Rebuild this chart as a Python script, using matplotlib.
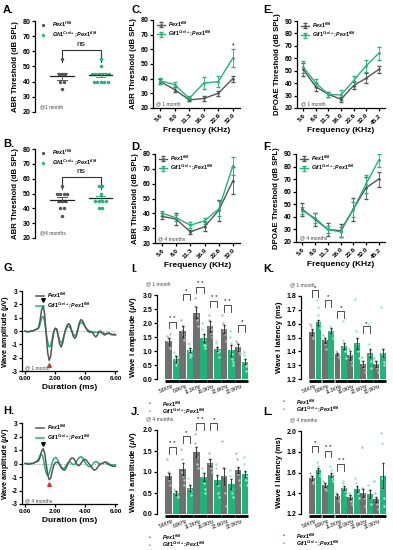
import numpy as np
import matplotlib
matplotlib.use("Agg")
import matplotlib.pyplot as plt

plt.rcParams['font.family'] = ['Liberation Sans', 'DejaVu Sans']
plt.rcParams['font.weight'] = 'bold'
plt.rcParams['axes.labelweight'] = 'bold'
plt.rcParams['axes.linewidth'] = 0.9
plt.rcParams['axes.unicode_minus'] = False
plt.rcParams['mathtext.fontset'] = 'custom'
plt.rcParams['mathtext.it'] = 'Liberation Sans:italic'
plt.rcParams['mathtext.rm'] = 'Liberation Sans'

GRAY = '#555555'
GRAYBAR = '#707070'
GREEN = '#22b37a'
LAB_WT = r'$Pex1^{fl/fl}$'
LAB_KO = r'$Gfi1^{Cre/+};Pex1^{fl/fl}$'

# ---------------- data ----------------
# A / B : ABR click thresholds (individual animals)
abr1_wt = [55, 45, 45, 45, 40, 40, 35]
abr1_ko = [55, 50, 45, 45, 45, 45, 45, 45, 40, 40, 40, 40, 40]
abr4_wt = [55, 50, 50, 50, 50, 45, 45, 45, 40, 40, 35]
abr4_ko = [55, 55, 50, 45, 45, 45, 45, 40, 40]

# C / D : ABR thresholds by frequency
abr_freq = ['5.6', '8.0', '11.3', '16.0', '22.6', '32.0']
c_wt = [38, 32.5, 25.5, 26.5, 30, 40]
c_wt_err = [1.5, 1.5, 1, 2, 1.5, 2]
c_ko = [38.5, 36, 26.5, 37, 38, 54]
c_ko_err = [2, 2, 1.5, 4, 4, 6]
d_wt = [38, 36, 27.5, 31, 42, 62]
d_wt_err = [2, 4, 1.5, 3, 7, 9]
d_ko = [40, 37, 32, 35, 43, 72]
d_ko_err = [1.5, 2, 2, 2, 5, 6]

# E / F : DPOAE thresholds
dp_freq = ['5.6', '8.0', '11.3', '16.0', '22.6', '32.0', '45.2']
e_wt = [51, 37, 31, 27, 38, 44, 51]
e_wt_err = [5, 3, 2, 2, 3, 4, 3]
e_ko = [53, 40, 31, 30.5, 42, 54, 64]
e_ko_err = [5, 3, 2, 4, 4, 5, 5]
f_wt = [46, 38, 30, 29, 46, 63, 70]
f_wt_err = [5, 5, 5, 5, 9, 9, 6]
f_ko = [45, 39, 30, 28, 46, 66, 85]
f_ko_err = [3, 4, 3, 4, 6, 7, 5]

# G / H : averaged waveforms (0 - 6 ms, 0.1 ms steps)
t_ms = [i / 10 for i in range(61)]
g_wt = [0, -0.05, -0.05, -0.05, 0, 0, 0.05, 0.1, 0.15, 0.25,
        0.8, 1.6, 1.9, 1.3, -0.2, -1.6, -2.2, -1.9, -0.9, -0.1,
        0.2, 0.15, -0.4, -1.0, -1.2, -0.9, -0.3, 0.15, 0.45, 0.55,
        0.4, 0.0, -0.4, -0.55, -0.4, 0.1, 0.6, 0.85, 0.8, 0.55,
        0.3, 0.1, -0.05, -0.1, -0.05, -0.15, -0.35, -0.45, -0.3, -0.05,
        0.0, -0.1, -0.25, -0.3, -0.2, -0.15, -0.15, -0.25, -0.3, -0.25, -0.3]
g_ko = [0, -0.05, -0.05, -0.05, 0, 0, 0.05, 0.1, 0.15, 0.2,
        0.5, 0.95, 1.1, 0.7, -0.1, -0.8, -1.2, -1.1, -0.6, -0.05,
        0.2, 0.15, -0.3, -0.75, -0.9, -0.7, -0.25, 0.1, 0.3, 0.35,
        0.25, 0.0, -0.25, -0.35, -0.25, 0.1, 0.5, 0.65, 0.6, 0.45,
        0.3, 0.15, 0.05, 0.0, -0.05, -0.05, -0.1, -0.1, -0.1, -0.1,
        -0.1, -0.15, -0.15, -0.2, -0.2, -0.2, -0.2, -0.25, -0.25, -0.25, -0.3]
h_wt = [0, 0, -0.05, -0.05, 0, 0, 0.05, 0.1, 0.15, 0.2,
        0.5, 0.9, 1.1, 0.8, 0.0, -0.8, -1.2, -1.1, -0.6, -0.15,
        0.05, 0.1, 0.05, -0.1, -0.3, -0.45, -0.5, -0.4, -0.15, 0.1,
        0.3, 0.4, 0.4, 0.25, 0.0, -0.15, -0.15, 0.0, 0.15, 0.3,
        0.3, 0.2, 0.05, -0.1, -0.25, -0.4, -0.5, -0.45, -0.3, -0.15,
        -0.05, 0.0, 0.05, 0.1, 0.05, -0.05, -0.1, -0.15, -0.2, -0.2, -0.2]
h_ko = [0, 0, 0, 0, 0, 0, 0.05, 0.1, 0.2, 0.35,
        0.6, 0.7, 0.45, -0.2, -0.7, -0.9, -0.75, -0.35, 0.05, 0.35,
        0.45, 0.4, 0.2, -0.05, -0.25, -0.35, -0.35, -0.2, 0.0, 0.1,
        0.1, 0.0, -0.1, -0.05, 0.1, 0.3, 0.45, 0.5, 0.45, 0.25,
        0.05, -0.1, -0.2, -0.25, -0.2, -0.05, 0.1, 0.15, 0.1, 0.0,
        -0.05, 0.0, 0.05, 0.1, 0.1, 0.05, -0.05, -0.1, -0.1, -0.1, -0.1]

# I - L : wave I amplitude / latency
bar_freq = ['5.6KHz', '8.0KHz', '11.3KHz', '16.0KHz', '22.6KHz', '32.0KHz']

i_wt = [1.35, 1.7, 2.37, 1.88, 1.78, 1.13]
i_wt_err = [0.12, 0.2, 0.2, 0.2, 0.15, 0.12]
i_ko = [0.72, 1.03, 1.47, 1.08, 1.03, 0.62]
i_ko_err = [0.1, 0.08, 0.15, 0.08, 0.2, 0.1]
i_wt_pts = [[1.55, 1.45, 1.35, 1.2, 1.1, 1.6], [2.1, 1.9, 1.75, 1.6, 1.4, 1.5],
            [2.9, 2.6, 2.45, 2.3, 2.1, 1.9], [2.3, 2.1, 1.9, 1.8, 1.65, 1.5],
            [2.3, 2.0, 1.8, 1.7, 1.6, 1.35], [1.35, 1.3, 1.15, 1.05, 0.95, 0.9]]
i_ko_pts = [[0.95, 0.85, 0.75, 0.65, 0.5, 0.6, 0.8], [1.3, 1.25, 1.1, 1.0, 0.9, 0.8, 1.0, 0.85],
            [2.0, 1.8, 1.6, 1.5, 1.4, 1.2, 1.1, 1.2], [1.35, 1.3, 1.15, 1.05, 0.95, 0.8, 1.0],
            [1.7, 1.5, 1.3, 1.05, 0.9, 0.7, 0.5, 0.6], [0.95, 0.85, 0.7, 0.6, 0.45, 0.3, 0.5]]
i_sig = [(0, 2.05, '* *'), (1, 3.05, '*'), (2, 3.3, '* *'), (3, 2.8, '* *'), (4, 2.64, '* *'), (5, 1.93, '*')]

j_wt = [0.9, 1.07, 1.47, 1.22, 0.9, 1.05]
j_wt_err = [0.07, 0.15, 0.12, 0.08, 0.2, 0.08]
j_ko = [0.5, 0.62, 0.88, 0.82, 0.72, 0.95]
j_ko_err = [0.05, 0.07, 0.1, 0.1, 0.12, 0.07]
j_wt_pts = [[1.3, 1.0, 0.95, 0.8, 0.7], [1.55, 1.3, 1.0, 0.9, 0.8, 0.7],
            [1.9, 1.7, 1.5, 1.35, 1.2, 1.1], [1.45, 1.3, 1.2, 1.1, 1.0],
            [1.75, 1.1, 0.9, 0.7, 0.5, 0.2], [1.45, 1.3, 1.1, 0.95, 0.8, 0.7]]
j_ko_pts = [[0.6, 0.55, 0.5, 0.45, 0.4], [0.85, 0.7, 0.6, 0.55, 0.45],
            [1.1, 1.0, 0.9, 0.75, 0.6, 0.5], [1.2, 1.1, 0.9, 0.7, 0.5, 0.4],
            [1.05, 0.9, 0.75, 0.6, 0.5, 0.4], [1.35, 1.2, 1.0, 0.9, 0.8, 0.7]]
j_sig = [(0, 1.6, '* *'), (1, 1.86, '*'), (2, 2.16, '* *'), (3, 2.16, '*')]

k_wt = [1.54, 1.48, 1.38, 1.37, 1.31, 1.31]
k_wt_err = [0.02, 0.02, 0.01, 0.03, 0.02, 0.02]
k_ko = [1.61, 1.55, 1.44, 1.46, 1.39, 1.39]
k_ko_err = [0.02, 0.02, 0.02, 0.04, 0.03, 0.03]
k_wt_pts = [[1.6, 1.58, 1.55, 1.52, 1.5], [1.52, 1.5, 1.48, 1.45, 1.42],
            [1.4, 1.39, 1.38, 1.37, 1.36], [1.42, 1.39, 1.37, 1.33, 1.3],
            [1.36, 1.33, 1.3, 1.28, 1.25], [1.35, 1.33, 1.31, 1.28, 1.25]]
k_ko_pts = [[1.77, 1.72, 1.66, 1.62, 1.6, 1.57], [1.58, 1.56, 1.55, 1.53, 1.5],
            [1.62, 1.48, 1.45, 1.43, 1.4, 1.35], [1.78, 1.55, 1.5, 1.45, 1.4, 1.35],
            [1.6, 1.45, 1.4, 1.37, 1.33, 1.28], [1.72, 1.42, 1.39, 1.36, 1.32, 1.3]]
k_sig = [(0, 1.84, '*'), (1, 1.77, '*'), (2, 1.69, '*'), (4, 1.58, '*')]

l_wt = [1.55, 1.48, 1.37, 1.36, 1.40, 1.34]
l_wt_err = [0.02, 0.02, 0.02, 0.02, 0.04, 0.02]
l_ko = [1.62, 1.58, 1.45, 1.44, 1.39, 1.57]
l_ko_err = [0.02, 0.02, 0.02, 0.03, 0.04, 0.12]
l_wt_pts = [[1.6, 1.57, 1.55, 1.52, 1.5], [1.52, 1.5, 1.48, 1.45, 1.43],
            [1.4, 1.38, 1.37, 1.35, 1.33], [1.4, 1.38, 1.36, 1.33, 1.3],
            [1.85, 1.45, 1.4, 1.35, 1.28], [1.52, 1.4, 1.35, 1.3, 1.25]]
l_ko_pts = [[1.7, 1.66, 1.63, 1.6, 1.57], [1.66, 1.62, 1.58, 1.55, 1.52],
            [1.52, 1.5, 1.45, 1.42, 1.38], [1.55, 1.5, 1.45, 1.4, 1.35],
            [1.48, 1.43, 1.4, 1.35, 1.3], [1.98, 1.88, 1.55, 1.45, 1.35, 1.28]]
l_sig = [(0, 1.86, '*'), (1, 1.81, '* *'), (2, 1.68, '* *')]

# ---------------- figure ----------------
W, H = 393, 550
fig = plt.figure(figsize=(W / 100, H / 100), dpi=100)


def box(l, t, r, b):
    return fig.add_axes([l / W, 1 - b / H, (r - l) / W, (b - t) / H])


def ftext(x, y, s, **kw):
    fig.text(x / W, 1 - y / H, s, **kw)


def style(ax):
    ax.spines['top'].set_visible(False)
    ax.spines['right'].set_visible(False)
    ax.tick_params(width=0.9, length=2.5, labelsize=5, pad=1)


def swarm(vals, center, step):
    # spread equal values side by side
    xs = []
    for i, v in enumerate(vals):
        n = vals.count(v)
        k = vals[:i].count(v)
        xs.append(center + (k - (n - 1) / 2) * step)
    return xs


def scatter_panel(ax, wt, ko, age):
    style(ax)
    ax.spines['bottom'].set_visible(False)
    ax.set_xticks([])
    ax.set_xlim(-0.7, 1.45)
    ax.set_ylim(20, 80)
    ax.set_yticks(range(20, 81, 10))
    ax.scatter(swarm(wt, 0, 0.09), wt, s=2.2, color=GRAY, label=LAB_WT, zorder=3)
    ax.scatter(swarm(ko, 1, 0.09), ko, s=2.2, color=GREEN, label=LAB_KO, zorder=3)
    for x, v, c in [(0, wt, GRAY), (1, ko, GREEN)]:
        m = np.mean(v)
        se = np.std(v, ddof=1) / np.sqrt(len(v))
        ax.plot([x - 0.3, x + 0.3], [m, m], color='#222222', lw=0.9, zorder=4)
        ax.plot([x, x], [m - se, m + se], color=c, lw=0.7, zorder=4)
        for yy in (m - se, m + se):
            ax.plot([x - 0.12, x + 0.12], [yy, yy], color=c, lw=0.7, zorder=4)
    ax.plot([0, 0, 1, 1], [53, 61, 61, 53], color='#333333', lw=0.8)
    ax.text(0.5, 62.5, 'ns', ha='center', va='bottom', fontsize=6, fontweight='normal')
    ax.text(0.06, 0.04, age, transform=ax.transAxes, fontsize=3.6, fontweight='normal', color='#444444')
    ax.legend(loc='upper left', bbox_to_anchor=(0.0, 1.04), frameon=False, fontsize=4,
              handletextpad=0.6, labelspacing=0.15, borderaxespad=0, markerscale=0.9)
    ax.set_ylabel('ABR Threshold (dB SPL)', fontsize=5.6, labelpad=2)


def line_panel(ax, cats, wt, wte, ko, koe, ylim, ylabel, age, stars=None):
    style(ax)
    x = np.arange(len(cats))
    ax.errorbar(x, wt, yerr=wte, color=GRAY, lw=1.0, marker='.', ms=2, capsize=1.2,
                elinewidth=0.6, label=LAB_WT)
    ax.errorbar(x, ko, yerr=koe, color=GREEN, lw=1.0, marker='.', ms=2, capsize=1.2,
                elinewidth=0.6, label=LAB_KO)
    ax.set_xlim(-0.5, len(cats) - 0.5)
    ax.set_ylim(*ylim)
    ax.set_yticks(range(ylim[0], ylim[1] + 1, 10))
    ax.set_xticks(x)
    ax.set_xticklabels(cats, rotation=45, ha='right', rotation_mode='anchor', fontsize=4.6)
    ax.set_ylabel(ylabel, fontsize=5.6, labelpad=2)
    ax.set_xlabel('Frequency (KHz)', fontsize=6, labelpad=1)
    ax.text(0.04, 0.03, age, transform=ax.transAxes, fontsize=3.6, fontweight='normal', color='#444444')
    if stars:
        for xi, yi, s in stars:
            ax.text(xi, yi, s, ha='center', fontsize=5, fontweight='normal')
    ax.legend(loc='upper left', bbox_to_anchor=(0.02, 1.03), frameon=False, fontsize=3.8,
              handlelength=1.6, handletextpad=0.5, labelspacing=0.1, borderaxespad=0)


def wave_panel(ax, wt, ko, peak, trough, age):
    style(ax)
    ax.tick_params(axis='y', labelsize=4.8, pad=0.8)
    ax.axhline(0, color='#888888', lw=0.5, ls=(0, (2, 2)), zorder=1)
    ax.plot(t_ms, wt, color=GRAY, lw=1.1, label=LAB_WT, zorder=3)
    ax.plot(t_ms, ko, color=GREEN, lw=1.1, label=LAB_KO, zorder=2)
    ax.plot(peak[0], peak[1], marker='v', color='black', ms=2.6, zorder=4)
    ax.plot(trough[0], trough[1], marker='^', color='#e03030', ms=2.6, zorder=4)
    ax.set_xlim(-0.2, 6.1)
    ax.set_ylim(-3, 3)
    ax.set_yticks(range(-3, 4))
    ax.set_xticks([0, 2, 4, 6])
    ax.set_xticklabels(['0.00', '2.00', '4.00', '6.00'], fontsize=4.6)
    ax.set_xlabel('Duration (ms)', fontsize=6, labelpad=2)
    ax.set_ylabel('Wave amplitude ($\\mu$V)', fontsize=5.2)
    ax.yaxis.set_label_coords(-0.12, 0.5)
    ax.text(0.03, 0.02, age, transform=ax.transAxes, fontsize=3.6, fontweight='normal', color='#444444')
    ax.legend(loc='upper left', bbox_to_anchor=(0.12, 1.03), frameon=False, fontsize=3.8,
              handlelength=1.6, handletextpad=0.5, labelspacing=0.1, borderaxespad=0)


def bar_panel(ax, wt, wte, wtp, ko, koe, kop, ylim, step, fmt, ylabel, sig, age):
    style(ax)
    ax.spines['bottom'].set_visible(False)
    x = np.arange(6)
    off, bw = 0.26, 0.46
    ax.bar(x - off, wt, bw, color=GRAYBAR, zorder=2)
    ax.bar(x + off, ko, bw, color=GREEN, zorder=2)
    ax.errorbar(x - off, wt, yerr=wte, fmt='none', ecolor='#222222', elinewidth=0.6, capsize=1, zorder=4)
    ax.errorbar(x + off, ko, yerr=koe, fmt='none', ecolor='#222222', elinewidth=0.6, capsize=1, zorder=4)
    for g in range(6):
        ax.scatter(np.linspace(-0.12, 0.12, len(wtp[g])) + g - off, wtp[g], s=0.6, color='#bbbbbb', zorder=3)
        ax.scatter(np.linspace(-0.12, 0.12, len(kop[g])) + g + off, kop[g], s=0.6, color='#9ae8c4', zorder=3)
        ax.plot([g - off - bw / 2, g + off + bw / 2], [-0.025, -0.025], color='black', lw=2.0,
                transform=ax.get_xaxis_transform(), clip_on=False, solid_capstyle='butt')
    rng = ylim[1] - ylim[0]
    for g, h, s in sig:
        d = 0.08 * rng
        ax.plot([g - off, g - off, g + off, g + off], [h - d, h, h, h - d], color='#333333', lw=0.6,
                clip_on=False)
        ax.text(g, h + 0.01 * rng, s, ha='center', va='bottom', fontsize=4.5, fontweight='normal')
    ax.set_xlim(-1.1, 5.75)
    ax.set_ylim(*ylim)
    ticks = np.arange(ylim[0], ylim[1] + step / 2, step)
    ax.set_yticks(ticks)
    ax.set_yticklabels([fmt % v for v in ticks])
    ax.set_xticks(x)
    ax.set_xticklabels(bar_freq, rotation=22, ha='right', rotation_mode='anchor', fontsize=3.3,
                       fontweight='normal')
    ax.tick_params(axis='x', length=0, pad=3.5)
    ax.set_ylabel(ylabel, fontsize=5.6, labelpad=2)
    ax.text(-0.12, 1.12, age, transform=ax.transAxes, fontsize=3.6, fontweight='normal', color='#444444')


# A, B
axA = box(35, 21, 118, 112)
scatter_panel(axA, abr1_wt, abr1_ko, '@1 month')
axB = box(35, 149, 118, 238)
scatter_panel(axB, abr4_wt, abr4_ko, '@4 months')

# C, D
axC = box(153, 20, 240, 108)
line_panel(axC, abr_freq, c_wt, c_wt_err, c_ko, c_ko_err, (20, 80), 'ABR Threshold (dB SPL)',
           '@ 1 month', stars=[(5, 61, '*')])
axD = box(155, 154, 240, 243)
line_panel(axD, abr_freq, d_wt, d_wt_err, d_ko, d_ko_err, (20, 80), 'ABR Threshold (dB SPL)',
           '@ 4 months')

# E, F
axE = box(297, 21, 385, 108)
line_panel(axE, dp_freq, e_wt, e_wt_err, e_ko, e_ko_err, (20, 90), 'DPOAE Threshold (dB SPL)',
           '@ 1 month')
axF = box(296, 154, 385, 242)
line_panel(axF, dp_freq, f_wt, f_wt_err, f_ko, f_ko_err, (20, 90), 'DPOAE Threshold (dB SPL)',
           '@ 4 months')

# G, H
axG = box(22, 291, 117, 371)
wave_panel(axG, g_wt, g_ko, (1.2, 2.3), (1.62, -2.55), '@ 1 month')
axH = box(22, 423, 117, 504)
wave_panel(axH, h_wt, h_ko, (1.2, 1.45), (1.62, -1.55), '@ 4 months')

# I - L
axI = box(157, 295, 252, 379)
bar_panel(axI, i_wt, i_wt_err, i_wt_pts, i_ko, i_ko_err, i_ko_pts, (0, 3.0), 0.5, '%.1f',
          'Wave I amplitude ($\\mu$V)', i_sig, '@ 1 month')
axJ = box(157, 430, 252, 514)
bar_panel(axJ, j_wt, j_wt_err, j_wt_pts, j_ko, j_ko_err, j_ko_pts, (0, 2.0), 0.5, '%.1f',
          'Wave I amplitude ($\\mu$V)', j_sig, '@ 4 months')
axK = box(301, 296, 389, 379)
bar_panel(axK, k_wt, k_wt_err, k_wt_pts, k_ko, k_ko_err, k_ko_pts, (1.2, 1.8), 0.1, '%.1f',
          'Wave I latency (ms)', k_sig, '@ 1 month')
axL = box(301, 431, 389, 514)
bar_panel(axL, l_wt, l_wt_err, l_wt_pts, l_ko, l_ko_err, l_ko_pts, (1.2, 2.0), 0.2, '%.1f',
          'Wave I latency (ms)', l_sig, '@ 4 months')

# legends under bar panels
for lx, ly in [(150, 404), (150, 537), (284, 402), (284, 536)]:
    ftext(lx, ly, '•', color=GRAY, fontsize=4, ha='center', va='center')
    ftext(lx + 12, ly, LAB_WT, fontsize=3.8, va='center', fontweight='normal')
    ftext(lx, ly + 8, '•', color=GREEN, fontsize=4, ha='center', va='center')
    ftext(lx + 12, ly + 8, LAB_KO, fontsize=3.8, va='center', fontweight='normal')

# panel letters
for s, x, y in [('A.', 3, 5), ('C.', 131, 5), ('E.', 263, 5),
                ('B.', 3, 139), ('D.', 131, 142), ('F.', 263, 142),
                ('G.', 3, 263), ('I.', 131, 264), ('K.', 263, 264),
                ('H.', 3, 406), ('J.', 131, 407), ('L.', 263, 407)]:
    ftext(x, y, s, fontsize=8, fontweight='bold', va='top')

fig.savefig('out.png', dpi=100)
